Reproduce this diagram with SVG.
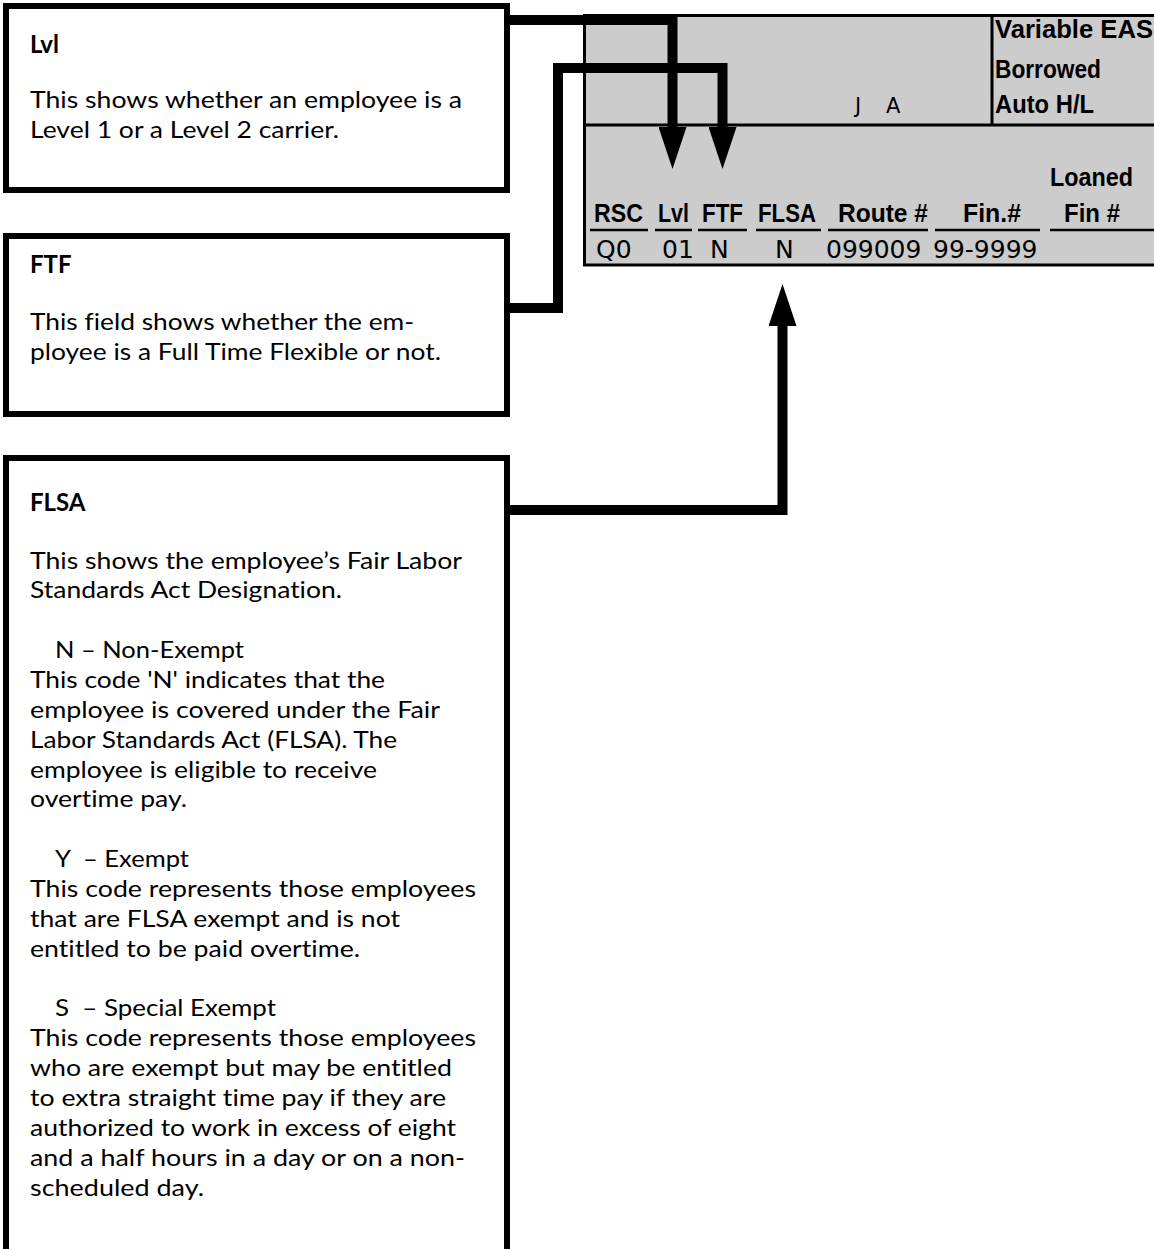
<svg xmlns="http://www.w3.org/2000/svg" width="1154" height="1249" viewBox="0 0 1154 1249">
  <style>
    .box { fill: #ffffff; stroke: #000000; stroke-width: 6; }
    .title { font-family: Lato, "Open Sans", sans-serif; font-size: 24px; font-weight: bold; fill: #000; font-variant-ligatures: none; }
    .body { font-family: Lato, "Open Sans", sans-serif; font-size: 24px; fill: #000; font-variant-ligatures: none; font-feature-settings: "liga" 0, "dlig" 0; }
    .panel { fill: #cccccc; stroke: #000000; stroke-width: 3; }
    .rule { stroke: #000000; stroke-width: 3; }
    .uline { stroke: #000000; stroke-width: 2.5; }
    .hdr { font-family: "Liberation Sans Narrow", "Liberation Sans", sans-serif; font-size: 25px; font-weight: bold; fill: #000; }
    .val { font-family: "DejaVu Sans", Verdana, sans-serif; font-size: 25px; fill: #000; }
    .conn { fill: none; stroke: #000000; stroke-width: 10; stroke-linejoin: miter; stroke-linecap: butt; }
  </style>
  <defs>
    <marker id="head" markerUnits="userSpaceOnUse" markerWidth="42" markerHeight="28" refX="0" refY="14" orient="auto">
      <path d="M0,0 L42,14 L0,28 Z" fill="#000000"/>
    </marker>
  </defs>

  <!-- Screen record panel -->
  <g id="record-panel">
    <rect class="panel" x="584.5" y="15.5" width="600" height="249.5"/>
    <line class="rule" x1="584" y1="125" x2="1154" y2="125"/>
    <line class="rule" x1="992" y1="15" x2="992" y2="125"/>
    <text class="val" y="113" style="font-size:21px"><tspan x="855">J</tspan><tspan x="886">A</tspan></text>
    <text class="hdr" x="995" y="38" textLength="158" lengthAdjust="spacingAndGlyphs">Variable EAS</text>
    <text class="hdr" x="995" y="78" textLength="106" lengthAdjust="spacingAndGlyphs">Borrowed</text>
    <text class="hdr" x="995" y="113" textLength="99" lengthAdjust="spacingAndGlyphs">Auto H/L</text>

    <text class="hdr" x="1050" y="186" textLength="83" lengthAdjust="spacingAndGlyphs">Loaned</text>
    <text class="hdr" x="594" y="222" textLength="49" lengthAdjust="spacingAndGlyphs">RSC</text>
    <text class="hdr" x="658" y="222" textLength="31" lengthAdjust="spacingAndGlyphs">Lvl</text>
    <text class="hdr" x="702" y="222" textLength="41" lengthAdjust="spacingAndGlyphs">FTF</text>
    <text class="hdr" x="758" y="222" textLength="58" lengthAdjust="spacingAndGlyphs">FLSA</text>
    <text class="hdr" x="838" y="222" textLength="90" lengthAdjust="spacingAndGlyphs">Route #</text>
    <text class="hdr" x="963" y="222" textLength="58" lengthAdjust="spacingAndGlyphs">Fin.#</text>
    <text class="hdr" x="1064" y="222" textLength="56" lengthAdjust="spacingAndGlyphs">Fin #</text>

    <line class="uline" x1="590" y1="230" x2="648" y2="230"/>
    <line class="uline" x1="655" y1="230" x2="692" y2="230"/>
    <line class="uline" x1="698" y1="230" x2="747" y2="230"/>
    <line class="uline" x1="756" y1="230" x2="821" y2="230"/>
    <line class="uline" x1="828" y1="230" x2="928" y2="230"/>
    <line class="uline" x1="935" y1="230" x2="1040" y2="230"/>
    <line class="uline" x1="1050" y1="230" x2="1154" y2="230"/>

    <text class="val" x="596" y="258">Q0</text>
    <text class="val" x="662" y="258">01</text>
    <text class="val" x="710" y="258">N</text>
    <text class="val" x="775" y="258">N</text>
    <text class="val" x="826" y="258">099009</text>
    <text class="val" x="933" y="258">99-9999</text>
  </g>

  <!-- Lvl callout -->
  <g id="lvl-note">
    <rect class="box" x="6" y="6" width="501" height="184"/>
    <text class="title" x="30" y="53">Lvl</text>
    <text class="body" x="30" y="108" textLength="432" lengthAdjust="spacingAndGlyphs">This shows whether an employee is a</text>
    <text class="body" x="30" y="138" textLength="309" lengthAdjust="spacingAndGlyphs">Level 1 or a Level 2 carrier.</text>
  </g>

  <!-- FTF callout -->
  <g id="ftf-note">
    <rect class="box" x="6" y="236" width="501" height="178"/>
    <text class="title" x="30" y="273">FTF</text>
    <text class="body" x="30" y="330" textLength="384" lengthAdjust="spacingAndGlyphs">This field shows whether the em-</text>
    <text class="body" x="30" y="360" textLength="411" lengthAdjust="spacingAndGlyphs">ployee is a Full Time Flexible or not.</text>
  </g>

  <!-- FLSA callout -->
  <g id="flsa-note">
    <rect class="box" x="6" y="458" width="501" height="820"/>
    <text class="title" x="30" y="511">FLSA</text>
    <text class="body" x="30" y="568.5" textLength="432" lengthAdjust="spacingAndGlyphs">This shows the employee’s Fair Labor</text>
    <text class="body" x="30" y="598.4" textLength="312" lengthAdjust="spacingAndGlyphs">Standards Act Designation.</text>
    <text class="body" x="55" y="658.1" textLength="189" lengthAdjust="spacingAndGlyphs">N – Non-Exempt</text>
    <text class="body" x="30" y="687.9" textLength="355" lengthAdjust="spacingAndGlyphs">This code 'N' indicates that the</text>
    <text class="body" x="30" y="717.8" textLength="410" lengthAdjust="spacingAndGlyphs">employee is covered under the Fair</text>
    <text class="body" x="30" y="747.7" textLength="367" lengthAdjust="spacingAndGlyphs">Labor Standards Act (FLSA). The</text>
    <text class="body" x="30" y="777.5" textLength="347" lengthAdjust="spacingAndGlyphs">employee is eligible to receive</text>
    <text class="body" x="30" y="807.4" textLength="157" lengthAdjust="spacingAndGlyphs">overtime pay.</text>
    <text class="body" x="55" y="867.1" xml:space="preserve" textLength="134" lengthAdjust="spacingAndGlyphs">Y  – Exempt</text>
    <text class="body" x="30" y="897" textLength="446" lengthAdjust="spacingAndGlyphs">This code represents those employees</text>
    <text class="body" x="30" y="926.8" textLength="370" lengthAdjust="spacingAndGlyphs">that are FLSA exempt and is not</text>
    <text class="body" x="30" y="956.7" textLength="330" lengthAdjust="spacingAndGlyphs">entitled to be paid overtime.</text>
    <text class="body" x="55" y="1016.4" xml:space="preserve" textLength="221" lengthAdjust="spacingAndGlyphs">S  – Special Exempt</text>
    <text class="body" x="30" y="1046.3" textLength="446" lengthAdjust="spacingAndGlyphs">This code represents those employees</text>
    <text class="body" x="30" y="1076.1" textLength="422" lengthAdjust="spacingAndGlyphs">who are exempt but may be entitled</text>
    <text class="body" x="30" y="1106" textLength="416" lengthAdjust="spacingAndGlyphs">to extra straight time pay if they are</text>
    <text class="body" x="30" y="1135.8" textLength="426" lengthAdjust="spacingAndGlyphs">authorized to work in excess of eight</text>
    <text class="body" x="30" y="1165.7" textLength="435" lengthAdjust="spacingAndGlyphs">and a half hours in a day or on a non-</text>
    <text class="body" x="30" y="1195.6" textLength="174" lengthAdjust="spacingAndGlyphs">scheduled day.</text>
  </g>

  <!-- Callout connectors -->
  <g id="connectors">
    <path class="conn" d="M509,20 H672.5 V127" marker-end="url(#head)"/>
    <path class="conn" d="M510,308 H558 V68 H722.5 V127" marker-end="url(#head)"/>
    <path class="conn" d="M510,510 H782.5 V326" marker-end="url(#head)"/>
  </g>
</svg>
